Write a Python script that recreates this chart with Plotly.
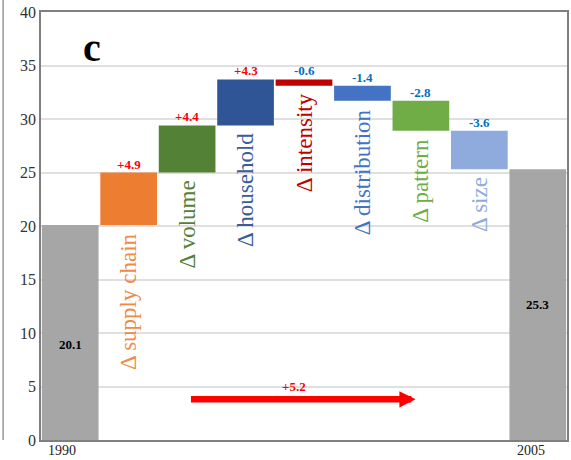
import plotly.graph_objects as go

# ---- data ----
categories = ["1990", "Δ supply chain", "Δ volume", "Δ household", "Δ intensity",
              "Δ distribution", "Δ pattern", "Δ size", "2005"]
start_total = 20.1
deltas = [4.9, 4.4, 4.3, -0.6, -1.4, -2.8, -3.6]
end_total = 25.3
overall_change = 5.2
tick_labels = ["0", "5", "10", "15", "20", "25", "30", "35", "40"]
tick_values = [0, 5, 10, 15, 20, 25, 30, 35, 40]

# ---- styles ----
bar_colors = ["#A6A6A6", "#ED7D31", "#538135", "#2F5597", "#C00000",
              "#4472C4", "#70AD47", "#8FAADC", "#A6A6A6"]
label_colors = ["#000000", "#F08A45", "#538135", "#3A5C9C", "#C00000",
                "#4472C4", "#70AD47", "#8FAADC", "#000000"]
SERIF = "Liberation Serif, Times New Roman, serif"

x = list(range(len(categories)))
bases, heights = [0], [start_total]
level = start_total
tops, bottoms = [], []
for d in deltas:
    new = level + d
    bases.append(min(level, new))
    heights.append(abs(d))
    tops.append(max(level, new))
    bottoms.append(min(level, new))
    level = new
bases.append(0)
heights.append(end_total)

fig = go.Figure()
fig.add_trace(go.Bar(x=x, y=heights, base=bases, width=0.97,
                     marker=dict(color=bar_colors, line=dict(width=0)),
                     hoverinfo="skip", showlegend=False))

ann = []
for i, d in enumerate(deltas, start=1):
    ann.append(dict(x=i, y=tops[i - 1], yanchor="bottom", xanchor="center",
                    text=f"<b>{d:+.1f}</b>", showarrow=False, yshift=-1,
                    font=dict(family=SERIF, size=13,
                              color="#FF0000" if d > 0 else "#0070C0")))
    ann.append(dict(x=i, y=bottoms[i - 1], yanchor="top", xanchor="center",
                    text=categories[i], showarrow=False, textangle=-90, yshift=-6,
                    font=dict(family=SERIF, size=23, color=label_colors[i])))

ann.append(dict(x=0, y=start_total / 2, text=f"<b>{start_total}</b>", showarrow=False,
                yshift=-12, font=dict(family=SERIF, size=13, color="#000")))
ann.append(dict(x=8, y=end_total / 2, text=f"<b>{end_total}</b>", showarrow=False,
                font=dict(family=SERIF, size=13, color="#000")))

# overall change arrow
ann.append(dict(x=5.91, y=3.8, ax=2.04, ay=3.8, axref="x", ayref="y", xref="x", yref="y",
                text="", showarrow=True, arrowhead=2, arrowsize=0.5, arrowwidth=6.5,
                arrowcolor="#FF0000"))
ann.append(dict(x=3.83, y=3.8, yanchor="bottom", text=f"<b>{overall_change:+.1f}</b>",
                showarrow=False, yshift=3,
                font=dict(family=SERIF, size=13, color="#FF0000")))

ann.append(dict(x=0.37, y=36.7, xref="x", yref="y", text="<b>c</b>", showarrow=False,
                font=dict(family=SERIF, size=40, color="#000")))

# x labels
ann.append(dict(x=0, y=0, text="1990", showarrow=False, yanchor="top", xshift=-8, yshift=-1,
                font=dict(family=SERIF, size=14, color="#222")))
ann.append(dict(x=8, y=0, text="2005", showarrow=False, yanchor="top", xshift=-7, yshift=-1,
                font=dict(family=SERIF, size=14, color="#222")))

fig.update_layout(
    width=571, height=460,
    margin=dict(l=41, r=2, t=12, b=20),
    paper_bgcolor="white", plot_bgcolor="white",
    bargap=0.02,
    annotations=ann,
    shapes=[dict(type="line", xref="paper", yref="paper", x0=-0.072, x1=-0.072,
                 y0=0, y1=1.03, line=dict(color="#999", width=1.5))],
    xaxis=dict(range=[-0.5, 8.5], showticklabels=False, showgrid=False, zeroline=False,
               showline=True, linecolor="#7F7F7F", linewidth=1.5, mirror=True, ticks=""),
    yaxis=dict(range=[0, 40], tickvals=tick_values, ticktext=tick_labels,
               showgrid=True, gridcolor="#E0E0E0", gridwidth=1.5, zeroline=False,
               showline=True, linecolor="#7F7F7F", linewidth=1.5, mirror=True,
               ticks="", tickfont=dict(family=SERIF, size=16, color="#333")),
)

fig.write_html("out.html", config={"displayModeBar": False},
               post_script="document.body.style.margin='0';")
